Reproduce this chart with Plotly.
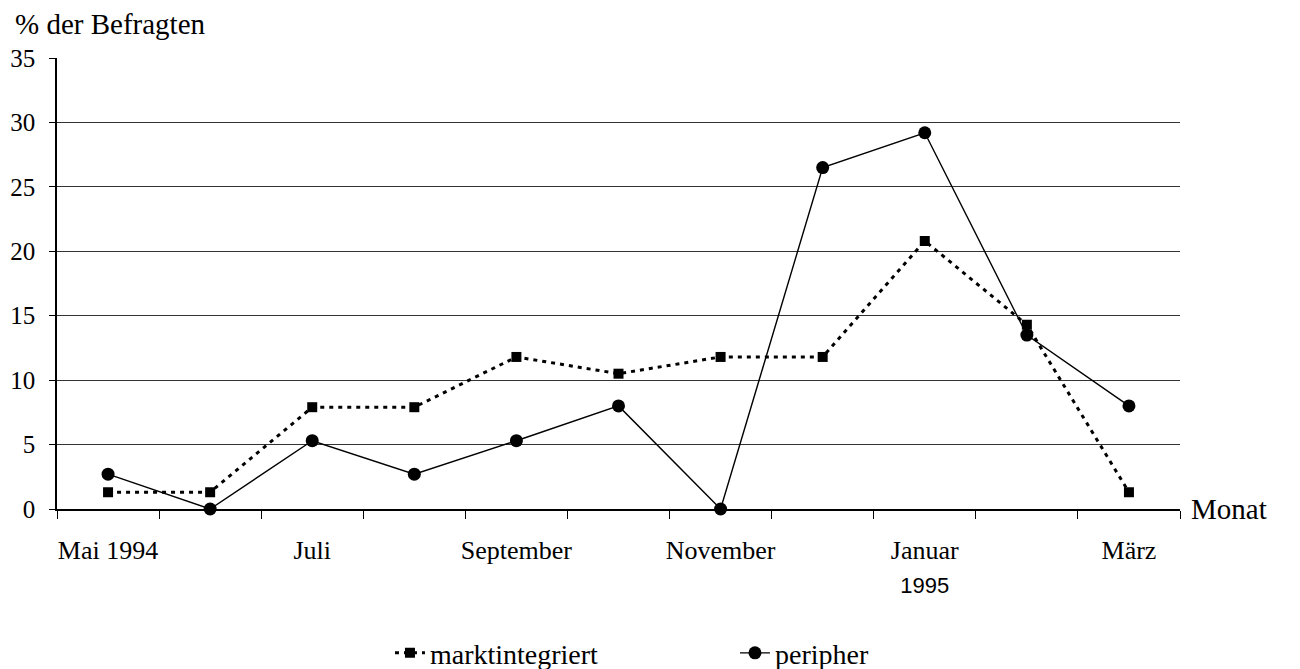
import plotly.graph_objects as go

months = ["Mai 1994", "Juni", "Juli", "August", "September", "Oktober",
          "November", "Dezember", "Januar 1995", "Februar", "März"]
tick_text = ["Mai 1994", "", "Juli", "", "September", "",
             "November", "", "Januar<br><span style='font-family:Liberation Sans;font-size:22px'>1995</span>", "", "März"]
marktintegriert = [1.3, 1.3, 7.9, 7.9, 11.8, 10.5, 11.8, 11.8, 20.8, 14.3, 1.3]
peripher = [2.7, 0.0, 5.3, 2.7, 5.3, 8.0, 0.0, 26.5, 29.2, 13.5, 8.0]

SERIF = "Liberation Serif"

fig = go.Figure()
fig.add_trace(go.Scatter(
    x=months, y=marktintegriert, name="marktintegriert", mode="lines+markers",
    line=dict(color="black", width=3, dash="4px,5px"),
    marker=dict(symbol="square", size=10, color="black"),
    cliponaxis=False,
))
fig.add_trace(go.Scatter(
    x=months, y=peripher, name="peripher", mode="lines+markers",
    line=dict(color="black", width=1.4),
    marker=dict(symbol="circle", size=13, color="black"),
    cliponaxis=False,
))

fig.update_layout(
    width=1292, height=661,
    margin=dict(l=49, r=120, t=50, b=160, autoexpand=False),
    plot_bgcolor="white", paper_bgcolor="white",
    font=dict(family=SERIF, size=24, color="black"),
    showlegend=True,
    legend=dict(orientation="h", xref="paper", x=0.2965, xanchor="left",
                yref="container", y=0.024, yanchor="middle",
                font=dict(family=SERIF, size=28), itemwidth=30,
                entrywidth=300, bgcolor="rgba(0,0,0,0)"),
    xaxis=dict(
        type="category", tickmode="array", tickvals=months, ticktext=tick_text,
        tickson="boundaries", ticks="outside", ticklen=8, tickcolor="black",
        showline=True, linecolor="black", linewidth=1.5, tickangle=0,
        showgrid=False, range=[-0.5, 10.5], ticklabelstandoff=17,
        tickfont=dict(family=SERIF, size=26), automargin=False,
    ),
    yaxis=dict(
        range=[0, 35], tickvals=[0, 5, 10, 15, 20, 25, 30, 35],
        ticks="outside", ticklen=6, tickcolor="black",
        showline=True, linecolor="black", linewidth=1.5,
        showgrid=True, gridcolor="#333", gridwidth=1,
        zeroline=False, tickfont=dict(family=SERIF, size=25),
        ticklabelstandoff=9, automargin=False,
    ),
)

fig.add_annotation(text="% der Befragten", xref="paper", yref="paper",
                   x=-0.039, y=1.0754, xanchor="left", yanchor="middle",
                   showarrow=False, font=dict(family=SERIF, size=29))
fig.add_annotation(text="Monat", xref="paper", yref="y",
                   x=1.008, y=0, xanchor="left", yanchor="middle",
                   showarrow=False, font=dict(family=SERIF, size=29))

fig.write_html("out.html")
